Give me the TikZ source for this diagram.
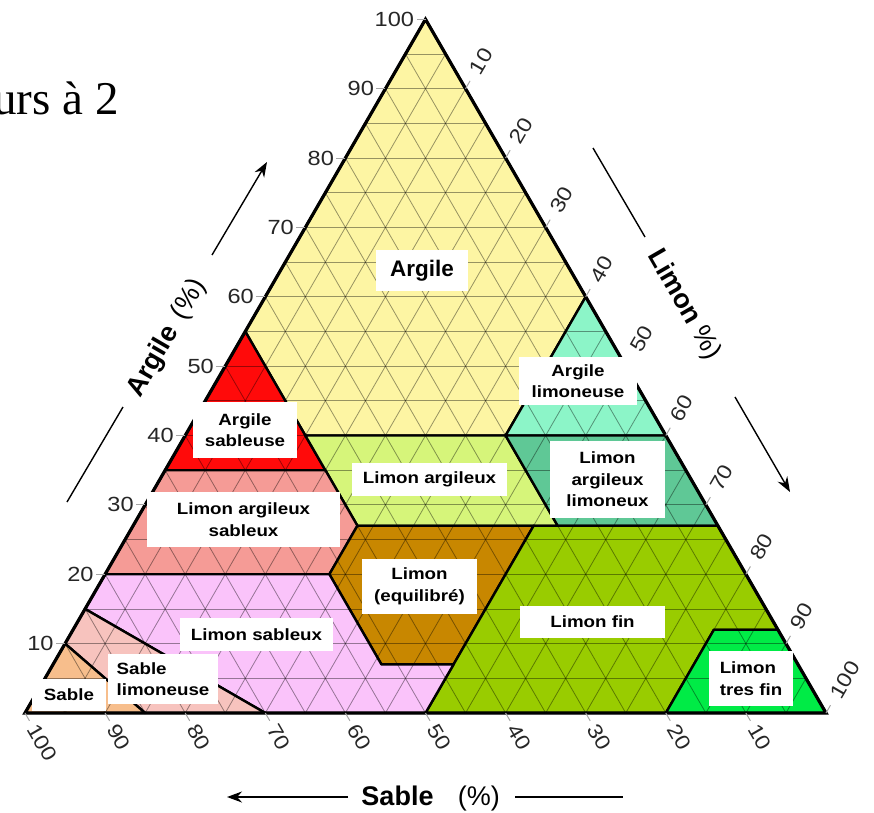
\documentclass[tikz,border=0pt]{standalone}
\usepackage{fontspec}
\setmainfont{Liberation Serif}
\setsansfont{Liberation Sans}
\newfontfamily\widesans{Liberation Sans}[FakeStretch=1.15]
\usepackage{tikz}
\usetikzlibrary{arrows.meta}
\usetikzlibrary{positioning}

\definecolor{cargile}{HTML}{FDF5A3}
\definecolor{cargilesab}{HTML}{FF0A0A}
\definecolor{cargilelim}{HTML}{8CF5C8}
\definecolor{climarg}{HTML}{D6F57A}
\definecolor{climarglim}{HTML}{5FC896}
\definecolor{climargsab}{HTML}{F59B96}
\definecolor{climon}{HTML}{C88700}
\definecolor{climonfin}{HTML}{99CC00}
\definecolor{climontresfin}{HTML}{00EB46}
\definecolor{climonsab}{HTML}{FAC3FA}
\definecolor{csablelim}{HTML}{F7C3BE}
\definecolor{csable}{HTML}{F7BE8C}

\begin{document}
\begin{tikzpicture}[x=1pt, y=1pt,
	tern/.style = {x={(8.01pt,0pt)}, y={(4.005pt,6.937pt)}},
	zone/.style = {draw=black, line width=2.4pt, line join=round},
	grille/.style = {black, opacity=0.4, line width=0.8pt},
	graduationtrait/.style = {black!35, line width=1pt},
	graduation/.style = {font=\widesans\fontsize{20.5}{20.5}\selectfont, text=black!85, inner sep=2pt},
	classe/.style = {fill=white, inner sep=0pt, align=center, font=\widesans\bfseries\fontsize{16.3}{21.5}\selectfont},
	titre/.style = {font=\sffamily\fontsize{27}{27}\selectfont, inner sep=0pt},
	fleche/.style = {line width=1.4pt, -{Stealth[length=15pt,width=11pt]}},
	trait/.style = {line width=1.4pt}]
	\useasboundingbox (-25,-99) rectangle (849,713);

	\node[font=\fontsize{47}{47}\selectfont, anchor=base east, inner sep=0pt] (entete) at (94,598) {urs à 2};

	\begin{scope}[tern]
		\filldraw[zone, fill=cargile] (0,100) -- (0,55) -- (15,40) -- (40,40) -- (40,60) -- cycle;
		\filldraw[zone, fill=cargilesab] (0,55) -- (0,35) -- (20,35) -- cycle;
		\filldraw[zone, fill=cargilelim] (40,40) -- (60,40) -- (40,60) -- cycle;
		\filldraw[zone, fill=climarg] (15,40) -- (40,40) -- (53,27) -- (28,27) -- cycle;
		\filldraw[zone, fill=climarglim] (40,40) -- (60,40) -- (73,27) -- (53,27) -- cycle;
		\filldraw[zone, fill=climargsab] (0,35) -- (20,35) -- (28,27) -- (28,20) -- (0,20) -- cycle;
		\filldraw[zone, fill=climon] (28,27) -- (50,27) -- (50,7) -- (41,7) -- (28,20) -- cycle;
		\filldraw[zone, fill=climonfin] (50,27) -- (73,27) -- (88,12) -- (80,12) -- (80,0) -- (50,0) -- cycle;
		\filldraw[zone, fill=climontresfin] (80,12) -- (88,12) -- (100,0) -- (80,0) -- cycle;
		\filldraw[zone, fill=climonsab] (0,20) -- (28,20) -- (41,7) -- (50,7) -- (50,0) -- (30,0) -- (0,15) -- cycle;
		\filldraw[zone, fill=csablelim] (0,15) -- (30,0) -- (15,0) -- (0,10) -- cycle;
		\filldraw[zone, fill=csable] (0,10) -- (15,0) -- (0,0) -- cycle;

		\foreach \v in {5,10,...,95} {
			\draw[grille] (0,\v) -- (100-\v,\v);
			\draw[grille] (\v,0) -- (\v,100-\v);
			\draw[grille] (\v,0) -- (0,\v);
		}

		\draw[line width=3.2pt, line join=miter] (0,0) -- (100,0) -- (0,100) -- cycle;

		\foreach \v in {10,20,...,100} {
			\draw[graduationtrait] (0,\v) -- ++(180:9pt) node[graduation, anchor=east] (ga\v) {\v};
			\draw[graduationtrait] (\v,100-\v) -- ++(60:9pt) node[graduation, anchor=west, rotate=60, inner sep=9pt] (gl\v) {\v};
			\draw[graduationtrait] (100-\v,0) -- ++(-60:9pt) node[graduation, anchor=west, rotate=-60, inner sep=5pt] (gs\v) {\v};
		}
	\end{scope}

	\node[classe, minimum width=92pt, minimum height=41pt, font=\sffamily\bfseries\fontsize{22.5}{22.5}\selectfont] (argile) at (397,442.5) {Argile};
	\node[classe, minimum width=118pt, minimum height=48pt] (argilelim) at (553,332) {Argile\\limoneuse};
	\node[classe, minimum width=104pt, minimum height=56pt] (argilesab) at (220,283) {Argile\\sableuse};
	\node[classe, minimum width=155pt, minimum height=33pt] (limarg) at (404.5,233.5) {Limon argileux};
	\node[classe, minimum width=115pt, minimum height=77pt] (limarglim) at (582.5,233.5) {Limon\\argileux\\limoneux};
	\node[classe, minimum width=193pt, minimum height=55pt] (limargsab) at (218.5,193.5) {Limon argileux\\sableux};
	\node[classe, minimum width=115pt, minimum height=55pt] (limon) at (394.5,126.5) {Limon\\(equilibré)};
	\node[classe, minimum width=145pt, minimum height=32pt] (limonfin) at (567.5,91) {Limon fin};
	\node[classe, align=left, minimum width=84pt, minimum height=55pt] (limontresfin) at (726,34.5) {Limon\\tres fin};
	\node[classe, minimum width=153pt, minimum height=33pt] (limonsab) at (231.5,78.5) {Limon sableux};
	\node[classe, align=left, minimum width=110pt, minimum height=50pt] (sablelim) at (138,34) {Sable\\limoneuse};
	\node[classe, minimum width=74pt, minimum height=32pt] (sable) at (44,18) {Sable};

	\node[titre, rotate=60] (titreargile) at (142,375) {\textbf{Argile}\hspace{0.45em}(\%)};
	\node[titre, rotate=-60] (titrelimon) at (659,408) {\textbf{Limon} \%)};
	\node[titre] (titresable) at (372.5,-83) {\textbf{Sable}};
	\node[titre, base right=24pt of titresable] (pctsable) {(\%)};

	\coordinate (argileA) at (42,211);
	\coordinate (argileB) at (98,306);
	\coordinate (argileC) at (187,458);
	\coordinate (argileD) at (242,551);
	\coordinate (limonA) at (568,565);
	\coordinate (limonB) at (620,476);
	\coordinate (limonC) at (710,316);
	\coordinate (limonD) at (765,221);
	\coordinate (sableA) at (323,-84);
	\coordinate (sableB) at (202,-84);
	\coordinate (sableC) at (490,-84);
	\coordinate (sableD) at (598,-84);
	\draw[trait] (argileA) -- (argileB);
	\draw[fleche] (argileC) -- (argileD);
	\draw[trait] (limonA) -- (limonB);
	\draw[fleche] (limonC) -- (limonD);
	\draw[fleche] (sableA) -- (sableB);
	\draw[trait] (sableC) -- (sableD);
\end{tikzpicture}
\end{document}
